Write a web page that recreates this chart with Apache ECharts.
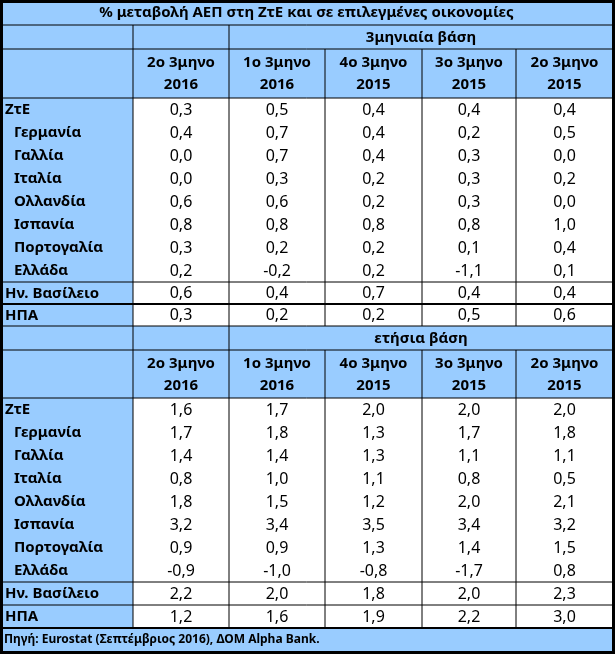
<!DOCTYPE html>
<html><head><meta charset="utf-8">
<script src="https://cdn.jsdelivr.net/npm/echarts@6/dist/echarts.min.js"></script>
<style>html,body{margin:0;padding:0;background:#fff}#c{width:615px;height:654px}</style>
</head><body><div id="c"></div>
<script>
// ---------- DATA ----------
const titleText = '% μεταβολή ΑΕΠ στη ΖτΕ και σε επιλεγμένες οικονομίες';
const qoqLabel = '3μηνιαία βάση';
const yoyLabel = 'ετήσια βάση';
const sourceText = 'Πηγή: Eurostat (Σεπτέμβριος 2016), ΔΟΜ Alpha Bank.';
const rowLabels = ['ΖτΕ','Γερμανία','Γαλλία','Ιταλία','Ολλανδία','Ισπανία','Πορτογαλία','Ελλάδα','Ην. Βασίλειο','ΗΠΑ'];
const periods = ['2ο 3μηνο\n2016','1ο 3μηνο\n2016','4ο 3μηνο\n2015','3ο 3μηνο\n2015','2ο 3μηνο\n2015'];
const qoq_2016Q2 = [0.3,0.4,0.0,0.0,0.6,0.8,0.3,0.2,0.6,0.3];
const qoq_2016Q1 = [0.5,0.7,0.7,0.3,0.6,0.8,0.2,-0.2,0.4,0.2];
const qoq_2015Q4 = [0.4,0.4,0.4,0.2,0.2,0.8,0.2,0.2,0.7,0.2];
const qoq_2015Q3 = [0.4,0.2,0.3,0.3,0.3,0.8,0.1,-1.1,0.4,0.5];
const qoq_2015Q2 = [0.4,0.5,0.0,0.2,0.0,1.0,0.4,0.1,0.4,0.6];
const yoy_2016Q2 = [1.6,1.7,1.4,0.8,1.8,3.2,0.9,-0.9,2.2,1.2];
const yoy_2016Q1 = [1.7,1.8,1.4,1.0,1.5,3.4,0.9,-1.0,2.0,1.6];
const yoy_2015Q4 = [2.0,1.3,1.3,1.1,1.2,3.5,1.3,-0.8,1.8,1.9];
const yoy_2015Q3 = [2.0,1.7,1.1,0.8,2.0,3.4,1.4,-1.7,2.0,2.2];
const yoy_2015Q2 = [2.0,1.8,1.1,0.5,2.1,3.2,1.5,0.8,2.3,3.0];

// ---------- LAYOUT ----------
const W = 615, H = 654;
const BLUE = '#99ccff';
const FONT = '"Noto Sans", sans-serif';
const colEdges = [0,133,229,325,422,516,613];
const sectionRows = [
  [25,49,98,121,144,167,190,213,236,259,282,304,326],
  [326,350,398,421,444,467,490,513,536,559,582,605,628]
];
const indentedRows = [1,2,3,4,5,6,7];
const fmt = v => v.toFixed(1).replace('.', ',');

const sections = [
  {label: qoqLabel, cols: [qoq_2016Q2,qoq_2016Q1,qoq_2015Q4,qoq_2015Q3,qoq_2015Q2]},
  {label: yoyLabel, cols: [yoy_2016Q2,yoy_2016Q1,yoy_2015Q4,yoy_2015Q3,yoy_2015Q2]}
];

const cells = [];
cells.push({x0:0,x1:613,y0:0,y1:25,text:titleText,bg:BLUE,bold:true,align:'center',size:15});
sections.forEach((sec, s) => {
  const r = sectionRows[s];
  cells.push({x0:0,x1:colEdges[1],y0:r[0],y1:r[1],text:'',bg:BLUE});
  cells.push({x0:colEdges[1],x1:colEdges[2],y0:r[0],y1:r[1],text:'',bg:BLUE});
  cells.push({x0:colEdges[2],x1:colEdges[6],y0:r[0],y1:r[1],text:sec.label,bg:BLUE,bold:true,align:'center',size:15});
  cells.push({x0:0,x1:colEdges[1],y0:r[1],y1:r[2],text:'',bg:BLUE});
  periods.forEach((p, j) => {
    cells.push({x0:colEdges[j+1],x1:colEdges[j+2],y0:r[1],y1:r[2],text:p,bg:BLUE,bold:true,align:'center',size:15,lh:22});
  });
  rowLabels.forEach((lab, i) => {
    const y0 = r[i+2], y1 = r[i+3];
    cells.push({x0:0,x1:colEdges[1],y0,y1,text:lab,bg:BLUE,bold:true,align:'left',pad: indentedRows.includes(i) ? 14 : 5,size:15});
    sec.cols.forEach((col, j) => {
      cells.push({x0:colEdges[j+1],x1:colEdges[j+2],y0,y1,text:fmt(col[i]),bg:'#ffffff',bold:false,align:'center',size:16});
    });
  });
});
cells.push({x0:0,x1:613,y0:628,y1:651,text:sourceText,bg:BLUE,bold:true,align:'left',pad:4,size:12});

// grid lines: [x0,y0,x1,y1,width]
const lines = [];
[[25,1],[49,1],[98,1],[282,1],[304,2],[326,1],[350,1],[398,1],[582,1],[605,1],[628,2]].forEach(([y,w]) => lines.push([0,y,613,y,w]));
sectionRows.forEach(r => {
  [colEdges[1], colEdges[2]].forEach(x => lines.push([x, r[0], x, r[r.length-1], 1]));
  [colEdges[3], colEdges[4], colEdges[5]].forEach(x => lines.push([x, r[1], x, r[r.length-1], 1]));
});

const chart = echarts.init(document.getElementById('c'), null, {renderer:'canvas'});
chart.setOption({
  animation: false,
  backgroundColor: '#ffffff',
  grid: {left:0, right:0, top:0, bottom:0},
  xAxis: {type:'value', min:0, max:W, show:false},
  yAxis: {type:'value', min:0, max:H, inverse:true, show:false},
  series: [
    {
      type: 'custom',
      data: cells.map(c => [c.x0, c.y0, c.x1, c.y1]),
      renderItem: (params, api) => {
        const c = cells[params.dataIndex];
        const p0 = api.coord([api.value(0), api.value(1)]);
        const p1 = api.coord([api.value(2), api.value(3)]);
        const children = [{type:'rect', shape:{x:p0[0], y:p0[1], width:p1[0]-p0[0], height:p1[1]-p0[1]}, style:{fill:c.bg}}];
        if (c.text) {
          const tx = c.align === 'left' ? p0[0] + c.pad : (p0[0]+p1[0])/2;
          children.push({type:'text', style:{
            text:c.text, x:tx, y:(p0[1]+p1[1])/2 + 0.5,
            align:c.align, verticalAlign:'middle',
            fontFamily:FONT, fontSize:c.size, fontWeight:c.bold ? 'bold' : 'normal',
            lineHeight:c.lh || undefined, fill:'#000'
          }});
        }
        return {type:'group', children};
      }
    },
    {
      type: 'custom',
      data: lines,
      z: 3,
      renderItem: (params, api) => {
        const a = api.coord([api.value(0), api.value(1)]);
        const b = api.coord([api.value(2), api.value(3)]);
        const w = api.value(4);
        return {type:'line', shape:{x1:a[0], y1:a[1], x2:b[0], y2:b[1]}, style:{stroke:'#000', lineWidth:w}};
      }
    },
    {
      type: 'custom',
      data: [[0,0,W,H]],
      z: 4,
      renderItem: (params, api) => {
        const a = api.coord([api.value(0), api.value(1)]);
        const b = api.coord([api.value(2), api.value(3)]);
        return {type:'rect', shape:{x:a[0]+1.5, y:a[1]+1.5, width:b[0]-a[0]-3, height:b[1]-a[1]-3}, style:{fill:null, stroke:'#000', lineWidth:3}};
      }
    }
  ]
});
</script></body></html>
